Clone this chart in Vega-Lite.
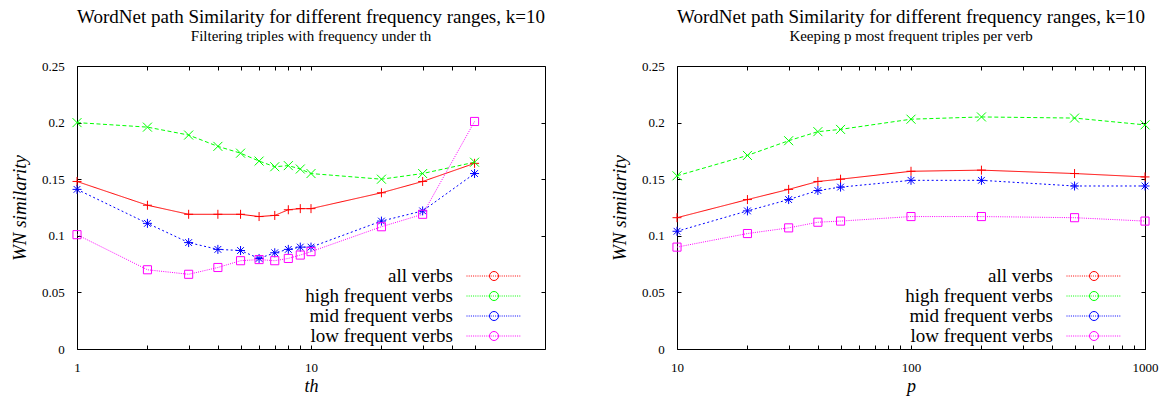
{
  "$schema": "https://vega.github.io/schema/vega-lite/v6.json",
  "padding": {"left": 10, "top": 7, "right": 5, "bottom": 0},
  "background": "white",
  "bounds": "flush",
  "spacing": 132,
  "datasets": {
    "left": [
      {"th": 1, "series": "all verbs", "sim": 0.148},
      {"th": 2, "series": "all verbs", "sim": 0.127},
      {"th": 3, "series": "all verbs", "sim": 0.119},
      {"th": 4, "series": "all verbs", "sim": 0.119},
      {"th": 5, "series": "all verbs", "sim": 0.119},
      {"th": 6, "series": "all verbs", "sim": 0.117},
      {"th": 7, "series": "all verbs", "sim": 0.118},
      {"th": 8, "series": "all verbs", "sim": 0.123},
      {"th": 9, "series": "all verbs", "sim": 0.124},
      {"th": 10, "series": "all verbs", "sim": 0.124},
      {"th": 20, "series": "all verbs", "sim": 0.138},
      {"th": 30, "series": "all verbs", "sim": 0.148},
      {"th": 50, "series": "all verbs", "sim": 0.164},
      {"th": 1, "series": "high frequent verbs", "sim": 0.200},
      {"th": 2, "series": "high frequent verbs", "sim": 0.196},
      {"th": 3, "series": "high frequent verbs", "sim": 0.189},
      {"th": 4, "series": "high frequent verbs", "sim": 0.179},
      {"th": 5, "series": "high frequent verbs", "sim": 0.173},
      {"th": 6, "series": "high frequent verbs", "sim": 0.166},
      {"th": 7, "series": "high frequent verbs", "sim": 0.161},
      {"th": 8, "series": "high frequent verbs", "sim": 0.162},
      {"th": 9, "series": "high frequent verbs", "sim": 0.159},
      {"th": 10, "series": "high frequent verbs", "sim": 0.155},
      {"th": 20, "series": "high frequent verbs", "sim": 0.150},
      {"th": 30, "series": "high frequent verbs", "sim": 0.155},
      {"th": 50, "series": "high frequent verbs", "sim": 0.165},
      {"th": 1, "series": "mid frequent verbs", "sim": 0.141},
      {"th": 2, "series": "mid frequent verbs", "sim": 0.111},
      {"th": 3, "series": "mid frequent verbs", "sim": 0.094},
      {"th": 4, "series": "mid frequent verbs", "sim": 0.088},
      {"th": 5, "series": "mid frequent verbs", "sim": 0.087},
      {"th": 6, "series": "mid frequent verbs", "sim": 0.080},
      {"th": 7, "series": "mid frequent verbs", "sim": 0.085},
      {"th": 8, "series": "mid frequent verbs", "sim": 0.088},
      {"th": 9, "series": "mid frequent verbs", "sim": 0.090},
      {"th": 10, "series": "mid frequent verbs", "sim": 0.090},
      {"th": 20, "series": "mid frequent verbs", "sim": 0.113},
      {"th": 30, "series": "mid frequent verbs", "sim": 0.122},
      {"th": 50, "series": "mid frequent verbs", "sim": 0.155},
      {"th": 1, "series": "low frequent verbs", "sim": 0.101},
      {"th": 2, "series": "low frequent verbs", "sim": 0.070},
      {"th": 3, "series": "low frequent verbs", "sim": 0.066},
      {"th": 4, "series": "low frequent verbs", "sim": 0.072},
      {"th": 5, "series": "low frequent verbs", "sim": 0.078},
      {"th": 6, "series": "low frequent verbs", "sim": 0.079},
      {"th": 7, "series": "low frequent verbs", "sim": 0.078},
      {"th": 8, "series": "low frequent verbs", "sim": 0.080},
      {"th": 9, "series": "low frequent verbs", "sim": 0.083},
      {"th": 10, "series": "low frequent verbs", "sim": 0.086},
      {"th": 20, "series": "low frequent verbs", "sim": 0.108},
      {"th": 30, "series": "low frequent verbs", "sim": 0.119},
      {"th": 50, "series": "low frequent verbs", "sim": 0.201}
    ],
    "right": [
      {"p": 10, "series": "all verbs", "sim": 0.116},
      {"p": 20, "series": "all verbs", "sim": 0.132},
      {"p": 30, "series": "all verbs", "sim": 0.141},
      {"p": 40, "series": "all verbs", "sim": 0.148},
      {"p": 50, "series": "all verbs", "sim": 0.150},
      {"p": 100, "series": "all verbs", "sim": 0.157},
      {"p": 200, "series": "all verbs", "sim": 0.158},
      {"p": 500, "series": "all verbs", "sim": 0.155},
      {"p": 1000, "series": "all verbs", "sim": 0.152},
      {"p": 10, "series": "high frequent verbs", "sim": 0.153},
      {"p": 20, "series": "high frequent verbs", "sim": 0.171},
      {"p": 30, "series": "high frequent verbs", "sim": 0.184},
      {"p": 40, "series": "high frequent verbs", "sim": 0.192},
      {"p": 50, "series": "high frequent verbs", "sim": 0.194},
      {"p": 100, "series": "high frequent verbs", "sim": 0.203},
      {"p": 200, "series": "high frequent verbs", "sim": 0.205},
      {"p": 500, "series": "high frequent verbs", "sim": 0.204},
      {"p": 1000, "series": "high frequent verbs", "sim": 0.198},
      {"p": 10, "series": "mid frequent verbs", "sim": 0.104},
      {"p": 20, "series": "mid frequent verbs", "sim": 0.122},
      {"p": 30, "series": "mid frequent verbs", "sim": 0.132},
      {"p": 40, "series": "mid frequent verbs", "sim": 0.140},
      {"p": 50, "series": "mid frequent verbs", "sim": 0.143},
      {"p": 100, "series": "mid frequent verbs", "sim": 0.149},
      {"p": 200, "series": "mid frequent verbs", "sim": 0.149},
      {"p": 500, "series": "mid frequent verbs", "sim": 0.144},
      {"p": 1000, "series": "mid frequent verbs", "sim": 0.144},
      {"p": 10, "series": "low frequent verbs", "sim": 0.090},
      {"p": 20, "series": "low frequent verbs", "sim": 0.102},
      {"p": 30, "series": "low frequent verbs", "sim": 0.107},
      {"p": 40, "series": "low frequent verbs", "sim": 0.112},
      {"p": 50, "series": "low frequent verbs", "sim": 0.113},
      {"p": 100, "series": "low frequent verbs", "sim": 0.117},
      {"p": 200, "series": "low frequent verbs", "sim": 0.117},
      {"p": 500, "series": "low frequent verbs", "sim": 0.116},
      {"p": 1000, "series": "low frequent verbs", "sim": 0.113}
    ]
  },
  "hconcat": [
    {
      "width": 468,
      "height": 283,
      "data": {"name": "left"},
      "title": {"text": "WordNet path Similarity for different frequency ranges, k=10", "subtitle": "Filtering triples with frequency under th"},
      "resolve": {
        "axis": {"x": "independent", "y": "independent"},
        "scale": {"color": "independent"},
        "legend": {"color": "independent"}
      },
      "layer": [
        {
          "mark": {"type": "line", "strokeWidth": 1},
          "encoding": {
            "x": {"field": "th", "type": "quantitative", "scale": {"type": "log", "domain": [1, 50]},
              "axis": {"orient": "bottom", "values": [1, 2, 3, 4, 5, 6, 7, 8, 9, 10, 20, 30, 40, 50], "labelExpr": "datum.value == 1 ? '1' : datum.value == 10 ? '10' : ''", "title": "th"}},
            "y": {"field": "sim", "type": "quantitative", "scale": {"domain": [0, 0.25], "nice": false},
              "axis": {"orient": "left", "values": [0, 0.05, 0.1, 0.15, 0.2, 0.25], "format": "~g", "title": "WN similarity"}},
            "color": {"field": "series", "type": "nominal",
              "scale": {"domain": ["all verbs", "high frequent verbs", "mid frequent verbs", "low frequent verbs"], "range": ["#ff0000", "#00ff00", "#0000ff", "#ff00ff"]},
              "legend": {"orient": "none", "legendX": 389, "legendY": 200.5, "direction": "vertical", "title": null, "padding": 0,
                "labelAlign": "right", "labelOffset": -69, "labelFont": "Liberation Serif", "labelFontSize": 19, "labelColor": "black", "labelLimit": 300,
                "symbolType": "stroke", "symbolSize": 3025, "symbolStrokeWidth": 1, "rowPadding": 0,
                "encode": {
                  "symbols": {"update": {
                    "y": {"value": 9.5},
                    "shape": {"value": "stroke"},
                    "strokeDash": {"condition": [
                      {"test": "datum.value === 'all verbs'", "value": [1, 0]},
                      {"test": "datum.value === 'high frequent verbs'", "value": [4, 2.5]},
                      {"test": "datum.value === 'mid frequent verbs'", "value": [2, 2.5]}
                    ], "value": [1, 1.2]},
                    "fill": {"value": "transparent"},
                    "strokeWidth": {"value": 1},
                    "opacity": {"value": 1}
                  }},
                  "labels": {"update": {"y": {"value": 9.5}}}
                }
              }},
            "strokeDash": {"field": "series", "type": "nominal",
              "scale": {"domain": ["all verbs", "high frequent verbs", "mid frequent verbs", "low frequent verbs"], "range": [[1, 0], [4, 2.5], [2, 2.5], [1, 1.2]]},
              "legend": null}
          }
        },
        {
          "mark": {"type": "point", "filled": false, "strokeWidth": 1, "opacity": 1, "size": 81},
          "encoding": {
            "x": {"field": "th", "type": "quantitative",
              "axis": {"orient": "top", "values": [1, 2, 3, 4, 5, 6, 7, 8, 9, 10, 20, 30, 40, 50], "labels": false, "title": null}},
            "y": {"field": "sim", "type": "quantitative",
              "axis": {"orient": "right", "values": [0, 0.05, 0.1, 0.15, 0.2, 0.25], "labels": false, "title": null}},
            "color": {"field": "series", "type": "nominal",
              "scale": {"domain": ["all verbs", "high frequent verbs", "mid frequent verbs", "low frequent verbs"], "range": ["#ff0000", "#00ff00", "#0000ff", "#ff00ff"]},
              "legend": {"orient": "none", "legendX": 407.5, "legendY": 200.5, "direction": "vertical", "title": null, "padding": 0,
                "labelExpr": "''", "labelFontSize": 19, "symbolSize": 81, "symbolStrokeWidth": 1, "rowPadding": 0,
                "encode": {
                  "symbols": {"update": {
                    "y": {"value": 9.5},
                    "shape": {"condition": [
                      {"test": "datum.value === 'all verbs'", "value": "M-1,0H1M0,-1V1"},
                      {"test": "datum.value === 'high frequent verbs'", "value": "M-1,-1L1,1M-1,1L1,-1"},
                      {"test": "datum.value === 'mid frequent verbs'", "value": "M-1,0H1M0,-1V1M-0.75,-0.75L0.75,0.75M-0.75,0.75L0.75,-0.75"}
                    ], "value": "M-0.9,-0.9H0.9V0.9H-0.9Z"},
                    "fill": {"value": "transparent"},
                    "strokeWidth": {"value": 1},
                    "opacity": {"value": 1}
                  }},
                  "labels": {"update": {"y": {"value": 9.5}}}
                }
              }},
            "shape": {"field": "series", "type": "nominal",
              "scale": {"domain": ["all verbs", "high frequent verbs", "mid frequent verbs", "low frequent verbs"], "range": ["M-1,0H1M0,-1V1", "M-1,-1L1,1M-1,1L1,-1", "M-1,0H1M0,-1V1M-0.75,-0.75L0.75,0.75M-0.75,0.75L0.75,-0.75", "M-0.9,-0.9H0.9V0.9H-0.9Z"]},
              "legend": null}
          }
        }
      ]
    },
    {
      "width": 468,
      "height": 283,
      "data": {"name": "right"},
      "title": {"text": "WordNet path Similarity for different frequency ranges, k=10", "subtitle": "Keeping p most frequent triples per verb"},
      "resolve": {
        "axis": {"x": "independent", "y": "independent"},
        "scale": {"color": "independent"},
        "legend": {"color": "independent"}
      },
      "layer": [
        {
          "mark": {"type": "line", "strokeWidth": 1},
          "encoding": {
            "x": {"field": "p", "type": "quantitative", "scale": {"type": "log", "domain": [10, 1000]},
              "axis": {"orient": "bottom", "values": [10, 20, 30, 40, 50, 60, 70, 80, 90, 100, 200, 300, 400, 500, 600, 700, 800, 900, 1000], "labelExpr": "datum.value == 10 ? '10' : datum.value == 100 ? '100' : datum.value == 1000 ? '1000' : ''", "title": "p"}},
            "y": {"field": "sim", "type": "quantitative", "scale": {"domain": [0, 0.25], "nice": false},
              "axis": {"orient": "left", "values": [0, 0.05, 0.1, 0.15, 0.2, 0.25], "format": "~g", "title": "WN similarity"}},
            "color": {"field": "series", "type": "nominal",
              "scale": {"domain": ["all verbs", "high frequent verbs", "mid frequent verbs", "low frequent verbs"], "range": ["#ff0000", "#00ff00", "#0000ff", "#ff00ff"]},
              "legend": {"orient": "none", "legendX": 389, "legendY": 200.5, "direction": "vertical", "title": null, "padding": 0,
                "labelAlign": "right", "labelOffset": -69, "labelFont": "Liberation Serif", "labelFontSize": 19, "labelColor": "black", "labelLimit": 300,
                "symbolType": "stroke", "symbolSize": 3025, "symbolStrokeWidth": 1, "rowPadding": 0,
                "encode": {
                  "symbols": {"update": {
                    "y": {"value": 9.5},
                    "shape": {"value": "stroke"},
                    "strokeDash": {"condition": [
                      {"test": "datum.value === 'all verbs'", "value": [1, 0]},
                      {"test": "datum.value === 'high frequent verbs'", "value": [4, 2.5]},
                      {"test": "datum.value === 'mid frequent verbs'", "value": [2, 2.5]}
                    ], "value": [1, 1.2]},
                    "fill": {"value": "transparent"},
                    "strokeWidth": {"value": 1},
                    "opacity": {"value": 1}
                  }},
                  "labels": {"update": {"y": {"value": 9.5}}}
                }
              }},
            "strokeDash": {"field": "series", "type": "nominal",
              "scale": {"domain": ["all verbs", "high frequent verbs", "mid frequent verbs", "low frequent verbs"], "range": [[1, 0], [4, 2.5], [2, 2.5], [1, 1.2]]},
              "legend": null}
          }
        },
        {
          "mark": {"type": "point", "filled": false, "strokeWidth": 1, "opacity": 1, "size": 81},
          "encoding": {
            "x": {"field": "p", "type": "quantitative",
              "axis": {"orient": "top", "values": [10, 20, 30, 40, 50, 60, 70, 80, 90, 100, 200, 300, 400, 500, 600, 700, 800, 900, 1000], "labels": false, "title": null}},
            "y": {"field": "sim", "type": "quantitative",
              "axis": {"orient": "right", "values": [0, 0.05, 0.1, 0.15, 0.2, 0.25], "labels": false, "title": null}},
            "color": {"field": "series", "type": "nominal",
              "scale": {"domain": ["all verbs", "high frequent verbs", "mid frequent verbs", "low frequent verbs"], "range": ["#ff0000", "#00ff00", "#0000ff", "#ff00ff"]},
              "legend": {"orient": "none", "legendX": 407.5, "legendY": 200.5, "direction": "vertical", "title": null, "padding": 0,
                "labelExpr": "''", "labelFontSize": 19, "symbolSize": 81, "symbolStrokeWidth": 1, "rowPadding": 0,
                "encode": {
                  "symbols": {"update": {
                    "y": {"value": 9.5},
                    "shape": {"condition": [
                      {"test": "datum.value === 'all verbs'", "value": "M-1,0H1M0,-1V1"},
                      {"test": "datum.value === 'high frequent verbs'", "value": "M-1,-1L1,1M-1,1L1,-1"},
                      {"test": "datum.value === 'mid frequent verbs'", "value": "M-1,0H1M0,-1V1M-0.75,-0.75L0.75,0.75M-0.75,0.75L0.75,-0.75"}
                    ], "value": "M-0.9,-0.9H0.9V0.9H-0.9Z"},
                    "fill": {"value": "transparent"},
                    "strokeWidth": {"value": 1},
                    "opacity": {"value": 1}
                  }},
                  "labels": {"update": {"y": {"value": 9.5}}}
                }
              }},
            "shape": {"field": "series", "type": "nominal",
              "scale": {"domain": ["all verbs", "high frequent verbs", "mid frequent verbs", "low frequent verbs"], "range": ["M-1,0H1M0,-1V1", "M-1,-1L1,1M-1,1L1,-1", "M-1,0H1M0,-1V1M-0.75,-0.75L0.75,0.75M-0.75,0.75L0.75,-0.75", "M-0.9,-0.9H0.9V0.9H-0.9Z"]},
              "legend": null}
          }
        }
      ]
    }
  ],
  "resolve": {
    "scale": {"color": "independent", "shape": "independent", "strokeDash": "independent"},
    "legend": {"color": "independent", "shape": "independent", "strokeDash": "independent"}
  },
  "config": {
    "font": "Liberation Serif",
    "view": {"stroke": "black", "strokeWidth": 1},
    "axis": {
      "grid": false, "domain": false, "ticks": true, "tickColor": "black", "tickWidth": 1, "tickSize": -4,
      "labelFont": "Liberation Serif", "labelFontSize": 13, "labelColor": "black", "labelPadding": 16.7,
      "labelFlush": false, "labelOverlap": false,
      "titleFont": "Liberation Serif", "titleFontSize": 18, "titleFontStyle": "italic", "titleFontWeight": "normal", "titleColor": "black"
    },
    "axisLeft": {"titlePadding": 12, "titleFontSize": 19},
    "axisBottom": {"titlePadding": 3},
    "title": {
      "font": "Liberation Serif", "fontSize": 19, "fontWeight": "normal", "color": "black",
      "subtitleFont": "Liberation Serif", "subtitleFontSize": 15, "subtitleColor": "black", "subtitlePadding": 2,
      "offset": 16, "anchor": "middle", "frame": "group"
    }
  }
}
